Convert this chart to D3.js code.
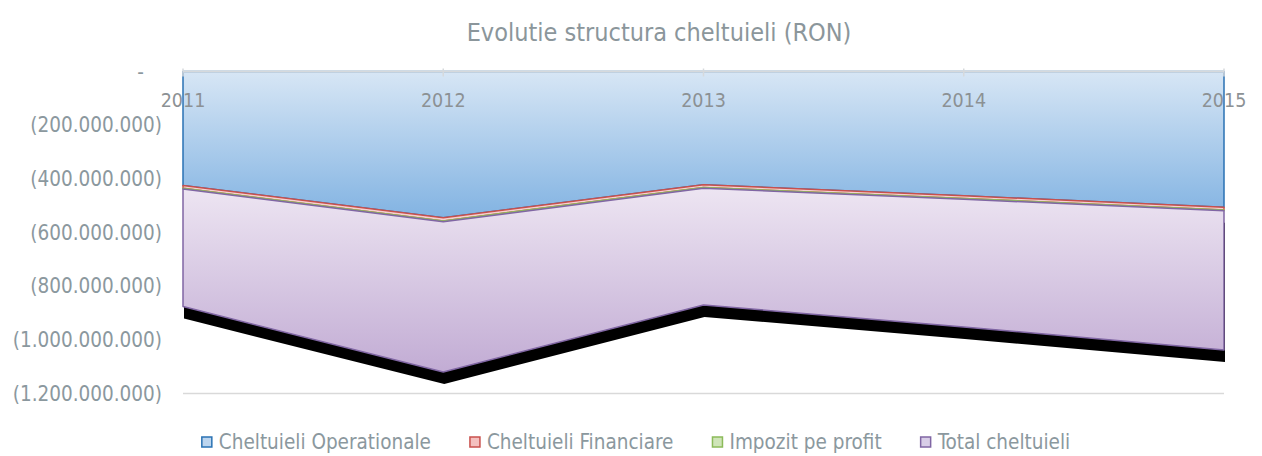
<!DOCTYPE html>
<html>
<head>
<meta charset="utf-8">
<script src="https://cdn.jsdelivr.net/npm/d3@7"></script>
<style>
  html, body { margin: 0; padding: 0; background: #ffffff; }
  svg text { font-family: "DejaVu Sans Condensed", "DejaVu Sans", sans-serif; }
</style>
</head>
<body>
<svg id="chart" width="1262" height="456"></svg>
<script>
// Expense structure per year, in RON (costs recorded as negative amounts)
const years = ["2011", "2012", "2013", "2014", "2015"];
const operationale = [-425e6, -545e6, -422e6, -463e6, -506e6];
const financiare   = [-10e6,  -12e6,  -10e6,  -10e6,  -10e6];
const impozit      = [-3e6,   -3e6,   -3e6,   -3e6,   -3e6];
const totalChelt   = [-438e6, -560e6, -435e6, -476e6, -519e6];

const seriesKeys  = ["op", "fin", "imp", "tot"];
const seriesNames = ["Cheltuieli Operationale", "Cheltuieli Financiare", "Impozit pe profit", "Total cheltuieli"];
const yTickValues = [0, -200e6, -400e6, -600e6, -800e6, -1000e6, -1200e6];
const chartTitle  = "Evolutie structura cheltuieli (RON)";

const rows = years.map((yr, i) => ({
  year: yr, op: operationale[i], fin: financiare[i], imp: impozit[i], tot: totalChelt[i]
}));

const svg = d3.select("#chart");
const plot = { left: 183, right: 1224, top: 71.5, bottom: 393.5 };

const x = d3.scalePoint().domain(years).range([plot.left, plot.right]);
const y = d3.scaleLinear().domain([-1200e6, 0]).range([plot.bottom, plot.top]);

const stacked = d3.stack().keys(seriesKeys).offset(d3.stackOffsetDiverging)(rows);

const area = d3.area()
  .x(d => x(d.data.year))
  .y0(d => y(d[0]))
  .y1(d => y(d[1]));

// gradients
const defs = svg.append("defs");
function vGrad(id, c0, c1) {
  const g = defs.append("linearGradient").attr("id", id)
    .attr("x1", 0).attr("y1", 0).attr("x2", 0).attr("y2", 1);
  g.append("stop").attr("offset", "0%").attr("stop-color", c0);
  g.append("stop").attr("offset", "100%").attr("stop-color", c1);
}
vGrad("gBlue", "#d7e6f5", "#82b3e2");
vGrad("gPurple", "#ede5f2", "#c2acd4");

const style = {
  op:  { fill: "url(#gBlue)",   stroke: "#2a72b4", swatch: "#bcd5ef" },
  fin: { fill: "#f6d0cf",       stroke: "#c9504d", swatch: "#f4c0bf" },
  imp: { fill: "#dbe9c8",       stroke: "#8cbb5a", swatch: "#cfe5b8" },
  tot: { fill: "url(#gPurple)", stroke: "#8066a4", swatch: "#d8cde7" }
};

// bottom reference line
svg.append("line")
  .attr("x1", plot.left).attr("x2", plot.right)
  .attr("y1", y(-1200e6)).attr("y2", y(-1200e6))
  .attr("stroke", "#d9d9d9").attr("stroke-width", 1.5);

// drop shadow under the total band
const totLayer = stacked.find(s => s.key === "tot");
svg.append("path")
  .datum(totLayer)
  .attr("d", area)
  .attr("transform", "translate(1,12)")
  .attr("fill", "#000");

// stacked bands
svg.append("g").selectAll("path")
  .data(stacked)
  .join("path")
  .attr("d", area)
  .attr("fill", d => style[d.key].fill)
  .attr("stroke", d => style[d.key].stroke)
  .attr("stroke-width", 1.5)
  .attr("stroke-linejoin", "round");

// category axis at zero
const xAxis = svg.append("g").attr("transform", `translate(0,${y(0)})`);
xAxis.append("line")
  .attr("x1", plot.left).attr("x2", plot.right)
  .attr("stroke", "#d6d9dc").attr("stroke-width", 2);
xAxis.selectAll("line.tick")
  .data(years)
  .join("line")
  .attr("class", "tick")
  .attr("x1", d => x(d)).attr("x2", d => x(d))
  .attr("y1", -3).attr("y2", 5)
  .attr("stroke", "#d6d9dc").attr("stroke-width", 1.5);
xAxis.selectAll("text")
  .data(years)
  .join("text")
  .attr("x", d => x(d))
  .attr("y", 35)
  .attr("text-anchor", "middle")
  .attr("font-size", 19.5)
  .attr("fill", "#8c9194")
  .text(d => d);

// value axis labels, accounting style
const ro = d3.formatLocale({ decimal: ",", thousands: ".", grouping: [3], currency: ["", " RON"] });
const fmtInt = ro.format(",.0f");
const fmtY = v => v === 0 ? "-" : v < 0 ? `(${fmtInt(-v)})` : fmtInt(v);

svg.append("g").selectAll("text")
  .data(yTickValues)
  .join("text")
  .attr("x", d => d === 0 ? 144 : 162)
  .attr("y", d => y(d) + 7)
  .attr("text-anchor", "end")
  .attr("font-size", 20.5)
  .attr("fill", "#8b989e")
  .text(fmtY);

// title
svg.append("text")
  .attr("x", 659).attr("y", 41)
  .attr("text-anchor", "middle")
  .attr("font-size", 25)
  .attr("fill", "#8b969b")
  .text(chartTitle);

// legend
const legend = svg.append("g");
const items = legend.selectAll("g")
  .data(seriesKeys)
  .join("g");
items.append("rect")
  .attr("width", 10).attr("height", 10)
  .attr("y", 437)
  .attr("fill", d => style[d].swatch)
  .attr("stroke", d => style[d].stroke)
  .attr("stroke-width", 1.5);
items.append("text")
  .attr("x", 17)
  .attr("y", 449)
  .attr("font-size", 20.5)
  .attr("fill", "#8b989e")
  .text((d, i) => seriesNames[i]);

let cursor = 0;
const gap = 39;
items.each(function () {
  const w = this.querySelector("text").getComputedTextLength();
  d3.select(this).attr("data-x", cursor);
  cursor += 17 + w + gap;
});
const legendWidth = cursor - gap;
const legendStart = 636 - legendWidth / 2;
items.attr("transform", function () {
  return `translate(${legendStart + (+this.getAttribute("data-x"))},0)`;
});
</script>
</body>
</html>
